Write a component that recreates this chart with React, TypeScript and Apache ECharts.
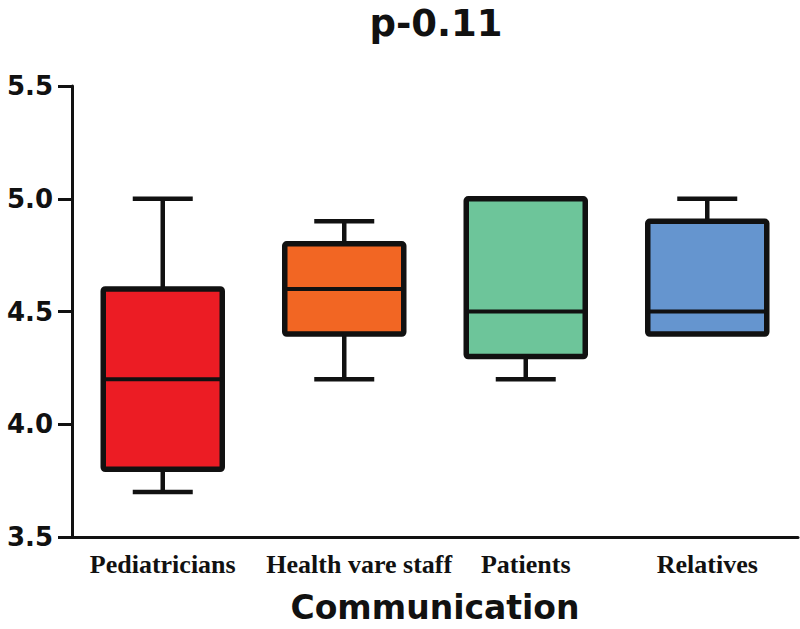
import React, { useEffect, useRef } from "react";
import * as echarts from "echarts";

const categories = ["Pediatricians", "Health vare staff", "Patients", "Relatives"];
const minVals = [3.7, 4.2, 4.2, 4.4];
const q1Vals = [3.8, 4.4, 4.3, 4.4];
const medianVals = [4.2, 4.6, 4.5, 4.5];
const q3Vals = [4.6, 4.8, 5.0, 4.9];
const maxVals = [5.0, 4.9, 5.0, 5.0];
const boxColors = ["#EC1C24", "#F26623", "#6DC59A", "#6595CF"];
const yTicks = [3.5, 4.0, 4.5, 5.0, 5.5];

export default function App() {
  const ref = useRef<HTMLDivElement>(null);
  useEffect(() => {
    document.body.style.margin = "0";
    const chart = echarts.init(ref.current!, null, { renderer: "svg" });
    const data = categories.map((_, i) => [i, minVals[i], q1Vals[i], medianVals[i], q3Vals[i], maxVals[i]]);
    const BOX_W = 119;
    const CAP_W = 60;
    const option: any = {
      animation: false,
      backgroundColor: "#ffffff",
      title: {
        text: "p-0.11",
        left: 431,
        textAlign: "center",
        top: 0,
        textStyle: { fontFamily: "DejaVu Sans", fontWeight: "bold", fontSize: 37, color: "#111" },
      },
      grid: { left: 72, right: 2, top: 86, bottom: 92, containLabel: false },
      xAxis: {
        type: "category",
        data: categories,
        boundaryGap: true,
        axisLine: { lineStyle: { color: "#111", width: 3 } },
        axisTick: { alignWithLabel: true, length: 10, lineStyle: { color: "#111", width: 3 } },
        axisLabel: {
          interval: 0,
          margin: 14,
          fontFamily: "Liberation Serif",
          fontWeight: "bold",
          fontSize: 26,
          color: "#111",
          formatter: (v: string) => (v === "Health vare staff" ? "{s|" + v + "}" : v),
          rich: {
            s: {
              fontFamily: "Liberation Serif",
              fontWeight: "bold",
              fontSize: 26,
              color: "#111",
              padding: [0, 0, 0, 30],
            },
          },
        },
        name: "Communication",
        nameLocation: "middle",
        nameGap: 54,
        nameTextStyle: { fontFamily: "DejaVu Sans", fontWeight: "bold", fontSize: 33, color: "#111" },
      },
      yAxis: {
        type: "value",
        min: yTicks[0],
        max: yTicks[yTicks.length - 1],
        interval: 0.5,
        axisLine: { show: true, lineStyle: { color: "#111", width: 3 } },
        axisTick: { show: true, length: 14, lineStyle: { color: "#111", width: 3 } },
        splitLine: { show: false },
        axisLabel: {
          margin: 19,
          fontFamily: "DejaVu Sans",
          fontWeight: "bold",
          fontSize: 26,
          color: "#111",
          formatter: (v: number) => v.toFixed(1),
        },
      },
      series: [
        {
          type: "custom",
          data,
          encode: { x: 0, y: [1, 2, 3, 4, 5] },
          renderItem: (params: any, api: any) => {
            const idx = api.value(0);
            const pMin = api.coord([idx, api.value(1)]);
            const pQ1 = api.coord([idx, api.value(2)]);
            const pMed = api.coord([idx, api.value(3)]);
            const pQ3 = api.coord([idx, api.value(4)]);
            const pMax = api.coord([idx, api.value(5)]);
            const cx = pMed[0];
            const stroke = "#111";
            const children: any[] = [];
            const lw = 4.5;
            if (api.value(5) > api.value(4)) {
              children.push({ type: "line", shape: { x1: cx, y1: pQ3[1], x2: cx, y2: pMax[1] }, style: { stroke, lineWidth: lw } });
              children.push({ type: "line", shape: { x1: cx - CAP_W / 2, y1: pMax[1], x2: cx + CAP_W / 2, y2: pMax[1] }, style: { stroke, lineWidth: lw } });
            }
            if (api.value(1) < api.value(2)) {
              children.push({ type: "line", shape: { x1: cx, y1: pQ1[1], x2: cx, y2: pMin[1] }, style: { stroke, lineWidth: lw } });
              children.push({ type: "line", shape: { x1: cx - CAP_W / 2, y1: pMin[1], x2: cx + CAP_W / 2, y2: pMin[1] }, style: { stroke, lineWidth: lw } });
            }
            children.push({
              type: "rect",
              shape: { x: cx - BOX_W / 2, y: pQ3[1], width: BOX_W, height: pQ1[1] - pQ3[1], r: 2 },
              style: { fill: boxColors[idx], stroke, lineWidth: 5.5, lineJoin: "round" },
            });
            children.push({
              type: "line",
              shape: { x1: cx - BOX_W / 2, y1: pMed[1], x2: cx + BOX_W / 2, y2: pMed[1] },
              style: { stroke, lineWidth: 4 },
            });
            return { type: "group", children };
          },
        },
      ],
    };
    chart.setOption(option);
    return () => chart.dispose();
  }, []);
  return <div ref={ref} style={{ width: 800, height: 629, position: "fixed", left: 0, top: 0 }} />;
}
